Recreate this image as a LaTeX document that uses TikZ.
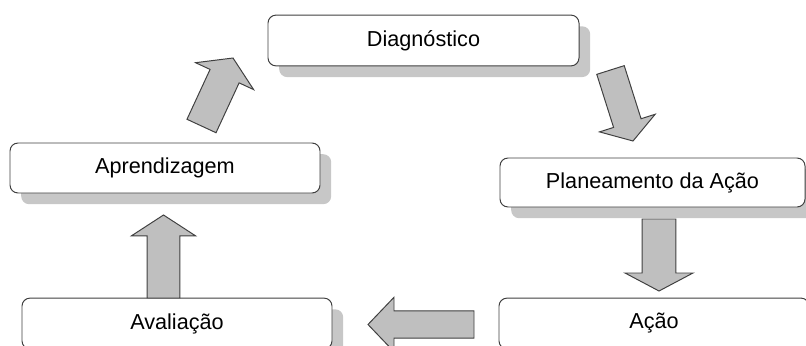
\documentclass[tikz,border=0pt]{standalone}
\usepackage{fontspec}
\setmainfont{Liberation Sans}
\usepackage{tikz}
\usetikzlibrary{positioning,calc,shadows}

\tikzset{
    stage/.style={draw=black!75, line width=0.7pt, rounded corners=0.2cm, fill=white,
        minimum width=7.75cm, minimum height=1.27cm, inner sep=0pt,
        drop shadow={shadow xshift=0.28cm, shadow yshift=-0.28cm, fill=black!22, opacity=1},
        font=\fontsize{15.4}{18}\selectfont},
    blockarrow/.style={draw=black!75, line width=0.7pt, fill=black!25, line join=miter}
}

% #1 tail, #2 tip, #3 half shaft, #4 half head, #5 head length
\newcommand{\bigarrow}[5]{%
    \coordinate (hb) at ($(#2)!#5!(#1)$);
    \draw[blockarrow] ($(#1)!#3!90:(#2)$) -- ($(hb)!#3!90:(#2)$) -- ($(hb)!#4!90:(#2)$) -- (#2)
        -- ($(hb)!#4!-90:(#2)$) -- ($(hb)!#3!-90:(#2)$) -- ($(#1)!#3!-90:(#2)$) -- cycle;
}

\begin{document}
\begin{tikzpicture}
    \useasboundingbox (0,0) rectangle (20.15,8.625);
    \clip (0,0) rectangle (20.15,8.625);

    % Stages
    \node[stage, minimum width=7.775cm] (diag) at (10.5875,7.6125) {Diagnóstico};
    \node[stage, minimum width=7.625cm, minimum height=1.225cm] (plan) at (16.3125,4.0625) {Planeamento da Ação};
    \node[stage, minimum height=1.25cm] (aprend) at (4.125,4.425) {Aprendizagem};
    \node[stage] (aval) at (4.425,0.5375) {Avaliação};
    \node[stage] (acao) at (16.35,0.5375) {Ação};

    % Arrow ends
    \coordinate (diagIn) at (5.825,7.175);
    \coordinate (aprendOut) at (5.0375,5.475);
    \coordinate (diagOut) at (15.2625,6.875);
    \coordinate (planIn) at (15.825,5.1);
    \coordinate (planOut) at (16.475,3.15);
    \coordinate (acaoIn) at (16.475,1.35);
    \coordinate (acaoOut) at (11.85,0.5125);
    \coordinate (avalIn) at (9.2,0.5125);
    \coordinate (avalOut) at (4.0875,1.175);
    \coordinate (aprendIn) at (4.0875,3.25);

    % Arrows
    \bigarrow{aprendOut}{diagIn}{0.4cm}{0.8cm}{0.5cm}
    \bigarrow{diagOut}{planIn}{0.36cm}{0.73cm}{0.47cm}
    \bigarrow{planOut}{acaoIn}{0.42cm}{0.85cm}{0.45cm}
    \bigarrow{acaoOut}{avalIn}{0.34cm}{0.68cm}{0.65cm}
    \bigarrow{avalOut}{aprendIn}{0.41cm}{0.8cm}{0.52cm}
\end{tikzpicture}
\end{document}
